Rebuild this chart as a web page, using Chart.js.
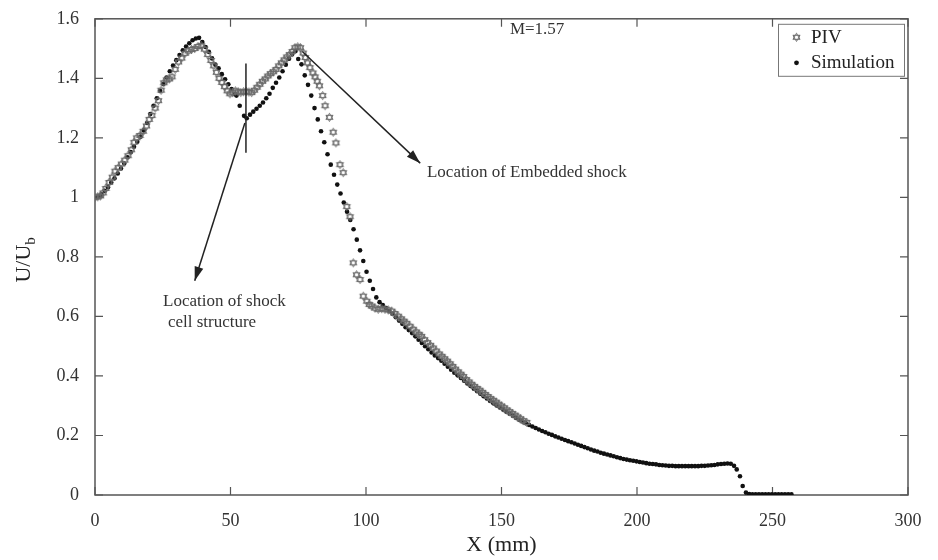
<!DOCTYPE html>
<html>
<head>
<meta charset="utf-8">
<script src="https://cdn.jsdelivr.net/npm/chart.js@4.4.1/dist/chart.umd.min.js"></script>
<style>
  body { margin: 0; background: #fff; }
</style>
</head>
<body>
<canvas id="myChart" width="938" height="560"></canvas>
<script>
// PIV measurement
const pivX = [0, 1, 2, 3, 4, 5.2, 6.4, 7.4, 8.6, 9.8, 11, 12.2, 13.4, 14.4, 15.4, 16.6, 17.8, 19, 20, 21,
    22.2, 23.4, 24.4, 25.4, 26.4, 27.4, 28.4, 29.6, 30.8, 32, 33.2, 34.4, 35.6, 36.8, 38, 39.2, 40.4, 41.6, 42.8, 43.8,
    44.8, 45.8, 46.8, 47.8, 48.8, 49.8, 50.8, 51.8, 52.8, 53.8, 54.8, 55.8, 56.8, 57.8, 58.8, 59.8, 60.8, 61.8, 62.8, 63.8,
    64.8, 65.8, 66.8, 67.8, 68.8, 69.8, 70.8, 71.8, 72.8, 73.8, 74.8, 75.8, 76.8, 77.6, 78.4, 79.3, 80.4, 81.2, 82, 82.8,
    84, 84.9, 86.5, 87.9, 88.9, 90.4, 91.6, 92.9, 94.1, 95.3, 96.5, 97.8, 99, 100.3, 101.2, 102.1, 103.3, 104.5, 105.8, 107,
    108.2, 109.5, 110.6, 111.9, 113, 114, 115, 116.2, 117.4, 118.5, 119.6, 120.5, 121.6, 122.7, 123.8, 124.8, 125.9, 127, 128, 129,
    130, 131, 132, 133, 134, 135, 136, 137, 138, 139, 140, 141, 142, 143, 144, 145, 146, 147, 148, 149,
    150, 151, 152, 153, 154, 155, 156, 157, 158, 159.3];
const pivY = [1.0, 1.002, 1.005, 1.015, 1.03, 1.05, 1.068, 1.088, 1.1, 1.112, 1.125, 1.14, 1.16, 1.185, 1.2, 1.208, 1.222, 1.24, 1.262, 1.275,
    1.3, 1.325, 1.36, 1.385, 1.395, 1.398, 1.405, 1.43, 1.455, 1.468, 1.484, 1.492, 1.497, 1.5, 1.507, 1.51, 1.498, 1.48, 1.46, 1.442,
    1.42, 1.4, 1.386, 1.372, 1.358, 1.348, 1.352, 1.358, 1.355, 1.352, 1.355, 1.356, 1.354, 1.352, 1.36, 1.37, 1.38, 1.39, 1.398, 1.408,
    1.416, 1.422, 1.43, 1.442, 1.452, 1.462, 1.472, 1.48, 1.49, 1.503, 1.506, 1.503, 1.485, 1.47, 1.452, 1.436, 1.418, 1.405, 1.39, 1.375,
    1.342, 1.308, 1.269, 1.219, 1.183, 1.11, 1.083, 0.969, 0.935, 0.78, 0.74, 0.724, 0.668, 0.651, 0.64, 0.635, 0.628, 0.624, 0.626, 0.624,
    0.622, 0.618, 0.61, 0.601, 0.592, 0.584, 0.577, 0.567, 0.557, 0.548, 0.54, 0.533, 0.522, 0.512, 0.503, 0.494, 0.484, 0.474, 0.466, 0.458,
    0.45, 0.441, 0.432, 0.423, 0.414, 0.406, 0.398, 0.388, 0.38, 0.372, 0.365, 0.358, 0.352, 0.345, 0.338, 0.331, 0.324, 0.318, 0.312, 0.305,
    0.299, 0.293, 0.286, 0.28, 0.274, 0.268, 0.262, 0.256, 0.25, 0.244];

// simulation
const simX = [0, 1.2, 2.4, 3.6, 4.8, 6, 7.2, 8.4, 9.6, 10.8, 12, 13.2, 14.4, 15.6, 16.8, 18, 19.2, 20.4, 21.6, 22.8,
    24, 25.2, 26.4, 27.6, 28.8, 30, 31.2, 32.4, 33.6, 34.8, 36, 37.2, 38.4, 39.6, 40.8, 42, 43.2, 44.4, 45.6, 46.8,
    48, 49.2, 50.4, 51.6, 52.2, 53.4, 55, 56, 57.2, 58.4, 59.6, 60.8, 62, 63.2, 64.4, 65.6, 66.8, 68, 69.2, 70.4,
    71.6, 72.8, 74, 75, 76.2, 77.4, 78.6, 79.8, 81, 82.2, 83.4, 84.6, 85.8, 87, 88.2, 89.4, 90.6, 91.8, 93, 94.2,
    95.4, 96.6, 97.8, 99, 100.2, 101.4, 102.6, 103.8, 105, 106.2, 107.4, 108.6, 109.8, 111, 112.2, 113.4, 114.6, 115.8, 117, 118.2,
    119.4, 120.6, 121.8, 123, 124.2, 125.4, 126.6, 127.8, 129, 130.2, 131.4, 132.6, 133.8, 135, 136.2, 137.4, 138.6, 139.8, 141, 142.2,
    143.4, 144.6, 145.8, 147, 148.2, 149.4, 150.6, 151.8, 153, 154.2, 155.4, 156.6, 157.8, 159, 160.2, 161.4, 162.6, 163.8, 165, 166.2,
    167.4, 168.6, 169.8, 171, 172.2, 173.4, 174.6, 175.8, 177, 178.2, 179.4, 180.6, 181.8, 183, 184.2, 185.4, 186.6, 187.8, 189, 190.2,
    191.4, 192.6, 193.8, 195, 196.2, 197.4, 198.6, 199.8, 201, 202.2, 203.4, 204.6, 205.8, 207, 208.2, 209.4, 210.6, 211.8, 213, 214.2,
    215.4, 216.6, 217.8, 219, 220.2, 221.4, 222.6, 223.8, 225, 226.2, 227.4, 228.6, 229.8, 231, 232.2, 233.4, 234.6, 235.8, 236.8, 238,
    239, 240.2, 241.4, 242.6, 243.8, 245, 246.2, 247.4, 248.6, 249.8, 251, 252.2, 253.4, 254.6, 255.8, 257];
const simY = [1.0, 1.003, 1.01, 1.022, 1.034, 1.05, 1.064, 1.08, 1.097, 1.114, 1.135, 1.152, 1.17, 1.187, 1.204, 1.225, 1.25, 1.28, 1.308, 1.333,
    1.358, 1.381, 1.403, 1.424, 1.443, 1.461, 1.478, 1.494, 1.507, 1.518, 1.528, 1.534, 1.536, 1.522, 1.505, 1.489, 1.467, 1.446, 1.434, 1.414,
    1.397, 1.38, 1.364, 1.347, 1.342, 1.308, 1.274, 1.266, 1.278, 1.288, 1.298, 1.308, 1.319, 1.333, 1.348, 1.368, 1.385, 1.403, 1.424, 1.446,
    1.466, 1.482, 1.492, 1.465, 1.447, 1.41, 1.378, 1.342, 1.3, 1.262, 1.222, 1.185, 1.145, 1.11, 1.076, 1.043, 1.013, 0.983, 0.952, 0.924,
    0.893, 0.858, 0.822, 0.786, 0.75, 0.72, 0.692, 0.664, 0.648, 0.638, 0.628, 0.618, 0.608, 0.597, 0.586, 0.575, 0.564, 0.554, 0.544, 0.533,
    0.522, 0.511, 0.5, 0.49, 0.479, 0.469, 0.46, 0.451, 0.441, 0.431, 0.421, 0.411, 0.402, 0.393, 0.384, 0.375, 0.366, 0.357, 0.349, 0.34,
    0.332, 0.324, 0.316, 0.308, 0.301, 0.294, 0.287, 0.28, 0.273, 0.266, 0.259, 0.253, 0.247, 0.241, 0.235, 0.23, 0.225, 0.22, 0.215, 0.211,
    0.206, 0.202, 0.197, 0.193, 0.189, 0.185, 0.181, 0.177, 0.173, 0.169, 0.165, 0.161, 0.157, 0.153, 0.149, 0.146, 0.142, 0.139, 0.136, 0.133,
    0.13, 0.127, 0.124, 0.121, 0.119, 0.117, 0.115, 0.113, 0.111, 0.109, 0.107, 0.105, 0.104, 0.103, 0.101, 0.1, 0.099, 0.098, 0.098, 0.097,
    0.097, 0.097, 0.097, 0.097, 0.097, 0.097, 0.097, 0.098, 0.098, 0.099, 0.1, 0.101, 0.103, 0.104, 0.105, 0.106, 0.105, 0.098, 0.086, 0.063,
    0.03, 0.008, 0.003, 0.002, 0.002, 0.002, 0.002, 0.002, 0.002, 0.002, 0.002, 0.002, 0.002, 0.002, 0.002, 0.002];

const xTicks = [0, 50, 100, 150, 200, 250, 300];
const yTicks = [0, 0.2, 0.4, 0.6, 0.8, 1, 1.2, 1.4, 1.6];
const yTickLabels = ['0', '0.2', '0.4', '0.6', '0.8', '1', '1.2', '1.4', '1.6'];

const serif = "'Liberation Serif', 'Times New Roman', serif";

// small hollow six-point star for the PIV marker
function makeStar() {
    let c = document.createElement('canvas');
    c.width = 11;
    c.height = 11;
    let g = c.getContext('2d');
    g.strokeStyle = '#6a6a6a';
    g.lineWidth = 1;
    let r = 4.1;
    for (let t = 0; t < 2; t++) {
        g.beginPath();
        for (let k = 0; k < 3; k++) {
            let a = -Math.PI / 2 + t * Math.PI + k * 2 * Math.PI / 3;
            let px = 5.5 + r * Math.cos(a);
            let py = 5.5 + r * Math.sin(a);
            if (k === 0) g.moveTo(px, py); else g.lineTo(px, py);
        }
        g.closePath();
        g.stroke();
    }
    return c;
}
const starImg = makeStar();

function arrow(ctx, x1, y1, x2, y2) {
    ctx.beginPath();
    ctx.moveTo(x1, y1);
    ctx.lineTo(x2, y2);
    ctx.stroke();
    let a = Math.atan2(y2 - y1, x2 - x1);
    let len = 14, w = 4.5;
    ctx.beginPath();
    ctx.moveTo(x2, y2);
    ctx.lineTo(x2 - len * Math.cos(a) + w * Math.sin(a), y2 - len * Math.sin(a) - w * Math.cos(a));
    ctx.lineTo(x2 - len * Math.cos(a) - w * Math.sin(a), y2 - len * Math.sin(a) + w * Math.cos(a));
    ctx.closePath();
    ctx.fill();
}

const framePlugin = {
    id: 'frame',
    beforeDatasetsDraw(chart) {
        let ctx = chart.ctx;
        let a = chart.chartArea;
        let xs = chart.scales.x, ys = chart.scales.y;
        ctx.save();
        ctx.strokeStyle = '#555';
        ctx.lineWidth = 1.5;
        ctx.strokeRect(a.left, a.top, a.right - a.left, a.bottom - a.top);
        ctx.lineWidth = 1.2;
        ctx.beginPath();
        xTicks.forEach(function(v) {
            let p = xs.getPixelForValue(v);
            ctx.moveTo(p, a.bottom); ctx.lineTo(p, a.bottom - 8);
            ctx.moveTo(p, a.top); ctx.lineTo(p, a.top + 8);
        });
        yTicks.forEach(function(v) {
            let p = ys.getPixelForValue(v);
            ctx.moveTo(a.left, p); ctx.lineTo(a.left + 8, p);
            ctx.moveTo(a.right, p); ctx.lineTo(a.right - 8, p);
        });
        ctx.stroke();
        ctx.restore();
    },
    afterDatasetsDraw(chart) {
        let ctx = chart.ctx;
        let a = chart.chartArea;
        let xs = chart.scales.x, ys = chart.scales.y;
        let X = v => xs.getPixelForValue(v);
        let Y = v => ys.getPixelForValue(v);
        ctx.save();

        // marker line at the shock cell and the two arrows
        ctx.strokeStyle = '#222';
        ctx.fillStyle = '#222';
        ctx.lineWidth = 1.5;
        ctx.beginPath();
        ctx.moveTo(X(55.7), Y(1.45));
        ctx.lineTo(X(55.7), Y(1.15));
        ctx.stroke();
        arrow(ctx, X(55.3), Y(1.25), X(36.8), Y(0.72));
        arrow(ctx, X(76.5), Y(1.49), X(120), Y(1.115));

        ctx.fillStyle = '#333';
        ctx.font = '17px ' + serif;
        ctx.textBaseline = 'middle';
        ctx.textAlign = 'left';
        ctx.fillText('Location of shock', X(25.1), Y(0.651));
        ctx.fillText('cell structure', X(26.9), Y(0.581));
        ctx.fillText('Location of Embedded shock', X(122.5), Y(1.085));
        ctx.fillText('M=1.57', X(153.1), Y(1.563));

        // legend box
        let lx = a.right - 130, ly = a.top + 5;
        ctx.strokeStyle = '#777';
        ctx.lineWidth = 1;
        ctx.fillStyle = '#fff';
        ctx.fillRect(lx, ly, 126, 52);
        ctx.strokeRect(lx + 0.5, ly + 0.5, 126, 52);
        ctx.drawImage(starImg, lx + 13, ly + 8);
        ctx.fillStyle = '#111';
        ctx.beginPath();
        ctx.arc(lx + 18.5, ly + 39, 2.4, 0, 2 * Math.PI);
        ctx.fill();
        ctx.fillStyle = '#222';
        ctx.font = '19px ' + serif;
        ctx.fillText(chart.data.datasets[0].label, lx + 33, ly + 14);
        ctx.fillText(chart.data.datasets[1].label, lx + 33, ly + 39);

        // y axis title with subscript
        ctx.translate(24, (a.top + a.bottom) / 2 + 3);
        ctx.rotate(-Math.PI / 2);
        ctx.font = '22px ' + serif;
        let w1 = ctx.measureText('U/U').width;
        ctx.font = '15px ' + serif;
        let w2 = ctx.measureText('b').width;
        ctx.font = '22px ' + serif;
        ctx.fillStyle = '#222';
        ctx.fillText('U/U', -(w1 + w2) / 2, 0);
        ctx.font = '15px ' + serif;
        ctx.fillText('b', -(w1 + w2) / 2 + w1, 7);
        ctx.restore();
    }
};

new Chart(document.getElementById('myChart'), {
    type: 'scatter',
    data: {
        datasets: [{
            label: 'PIV',
            data: pivX.map((x, i) => ({ x: x, y: pivY[i] })),
            pointStyle: starImg,
            pointRadius: 5,
            showLine: false
        }, {
            label: 'Simulation',
            data: simX.map((x, i) => ({ x: x, y: simY[i] })),
            pointStyle: 'circle',
            pointRadius: 2.3,
            backgroundColor: '#111',
            borderWidth: 0,
            showLine: false
        }]
    },
    options: {
        responsive: false,
        animation: false,
        layout: { padding: { top: 14, right: 30, left: 0, bottom: 0 } },
        plugins: {
            legend: { display: false },
            tooltip: { enabled: false }
        },
        scales: {
            x: {
                type: 'linear',
                min: 0,
                max: 300,
                afterBuildTicks: scale => { scale.ticks = xTicks.map(v => ({ value: v })); },
                afterFit: scale => { scale.height = 65; },
                grid: { display: false },
                border: { display: false },
                ticks: {
                    color: '#333',
                    font: { family: serif, size: 18 },
                    padding: 7,
                    maxRotation: 0
                },
                title: {
                    display: true,
                    text: 'X (mm)',
                    color: '#222',
                    font: { family: serif, size: 22 },
                    padding: { top: 0, bottom: 2 }
                }
            },
            y: {
                min: 0,
                max: 1.6,
                afterBuildTicks: scale => { scale.ticks = yTicks.map(v => ({ value: v })); },
                afterFit: scale => { scale.width = 95; },
                grid: { display: false },
                border: { display: false },
                ticks: {
                    color: '#333',
                    font: { family: serif, size: 18 },
                    padding: 8,
                    callback: (v, i) => yTickLabels[i]
                }
            }
        }
    },
    plugins: [framePlugin]
});
</script>
</body>
</html>
